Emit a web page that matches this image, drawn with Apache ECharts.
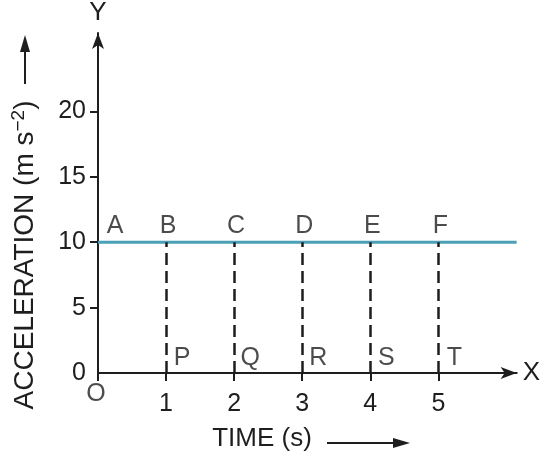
<!DOCTYPE html>
<html>
<head>
<meta charset="utf-8">
<script src="https://cdn.jsdelivr.net/npm/echarts@6/dist/echarts.min.js"></script>
<style>html,body{margin:0;padding:0;background:#fff}#c{width:543px;height:460px}</style>
</head>
<body>
<div id="c"></div>
<script>
// ---- data ----
var lineTimes = [0, 6.15];            // time (s) span of constant acceleration line
var lineAccel = [10, 10];             // acceleration (m s^-2)
var dropTimes = [1, 2, 3, 4, 5];      // dashed verticals
var topNames = ['A', 'B', 'C', 'D', 'E', 'F'];
var topTimes = [0, 1, 2, 3, 4, 5];
var bottomNames = ['P', 'Q', 'R', 'S', 'T'];
var bottomTimes = [1, 2, 3, 4, 5];
var originName = 'O';
var xTicks = [0, 1, 2, 3, 4, 5];
var xLabelValues = [1, 2, 3, 4, 5];
var yTicks = [0, 5, 10, 15, 20];
var accelValue = 10;

var FONT = 'Liberation Sans, Arial, sans-serif';
var INK = '#1e1e1e';
var chart = echarts.init(document.getElementById('c'));

var lineData = lineTimes.map(function (t, i) { return [t, lineAccel[i]]; });
var topData = topTimes.map(function (t, i) {
  var item = { name: topNames[i], value: [t, accelValue] };
  if (t === 0) item.label = { offset: [17, -16] };
  return item;
});
var botData = bottomTimes.map(function (t, i) { return { name: bottomNames[i], value: [t, 0] }; });
var drops = dropTimes.map(function (t) { return [{ coord: [t, 0] }, { coord: [t, accelValue] }]; });

chart.setOption({
  animation: false,
  backgroundColor: '#fff',
  grid: { left: 98, right: 26, top: 32, bottom: 87, containLabel: false },
  xAxis: {
    type: 'value', min: 0, max: 6.15,
    name: 'X', nameLocation: 'end', nameGap: 6,
    nameTextStyle: { fontFamily: FONT, fontSize: 26, color: INK, verticalAlign: 'middle' },
    axisLine: { show: true, symbol: ['none', 'arrow'], symbolSize: [9, 16], lineStyle: { color: INK, width: 2 } },
    axisTick: { show: true, length: 8, customValues: xTicks, lineStyle: { color: INK, width: 2 } },
    axisLabel: { customValues: xLabelValues, margin: 19, fontFamily: FONT, fontSize: 25, color: INK },
    splitLine: { show: false }
  },
  yAxis: {
    type: 'value', min: 0, max: 26,
    name: 'Y', nameLocation: 'end', nameGap: 7,
    nameTextStyle: { fontFamily: FONT, fontSize: 26, color: INK },
    axisLine: { show: true, symbol: ['none', 'arrow'], symbolSize: [9, 16], lineStyle: { color: INK, width: 2 } },
    axisTick: { show: true, length: 8, customValues: [5, 10, 15, 20], lineStyle: { color: INK, width: 2 } },
    axisLabel: { customValues: yTicks, margin: 12, fontFamily: FONT, fontSize: 25, color: INK },
    splitLine: { show: false }
  },
  series: [
    {
      type: 'line', data: lineData, symbol: 'none',
      lineStyle: { color: '#4aa0b6', width: 3 },
      markLine: {
        silent: true, symbol: ['none', 'none'],
        lineStyle: { color: INK, width: 2.5, type: [12, 6] },
        label: { show: false },
        data: drops
      },
      z: 3
    },
    {
      type: 'scatter', data: topData, symbolSize: 0,
      label: { show: true, formatter: '{b}', position: 'inside', fontFamily: FONT, fontSize: 25, color: INK,
        offset: [2, -16] },
      z: 4
    },
    {
      type: 'scatter', data: botData, symbolSize: 0,
      label: { show: true, formatter: '{b}', position: 'inside', fontFamily: FONT, fontSize: 25, color: INK,
        offset: [16, -15] },
      z: 4
    },
    {
      type: 'scatter', data: [{ name: originName, value: [0, 0] }], symbolSize: 0,
      label: { show: true, formatter: '{b}', position: 'inside', fontFamily: FONT, fontSize: 25, color: INK,
        offset: [-2, 21] },
      z: 4
    }
  ],
  graphic: [
    {
      type: 'text', x: 25, y: 255, rotation: Math.PI / 2,
      style: {
        text: 'ACCELERATION (m s{sup|−2})',
        rich: { sup: { fontSize: 19, fontFamily: FONT, fill: INK, verticalAlign: 'top', padding: [0, 0, 12, 0] } },
        fontFamily: FONT, fontSize: 28, fill: INK, align: 'center', verticalAlign: 'middle'
      }
    },
    { type: 'line', shape: { x1: 25, y1: 84, x2: 25, y2: 50 }, style: { stroke: INK, lineWidth: 2 } },
    { type: 'polygon', shape: { points: [[25, 35], [20, 52], [30, 52]] }, style: { fill: INK } },
    {
      type: 'text', x: 262, y: 439,
      style: { text: 'TIME (s)', fontFamily: FONT, fontSize: 26, fill: INK, align: 'center', verticalAlign: 'middle' }
    },
    { type: 'line', shape: { x1: 327, y1: 443, x2: 395, y2: 443 }, style: { stroke: INK, lineWidth: 2 } },
    { type: 'polygon', shape: { points: [[410, 443], [393, 438], [393, 448]] }, style: { fill: INK } }
  ]
});
</script>
</body>
</html>
